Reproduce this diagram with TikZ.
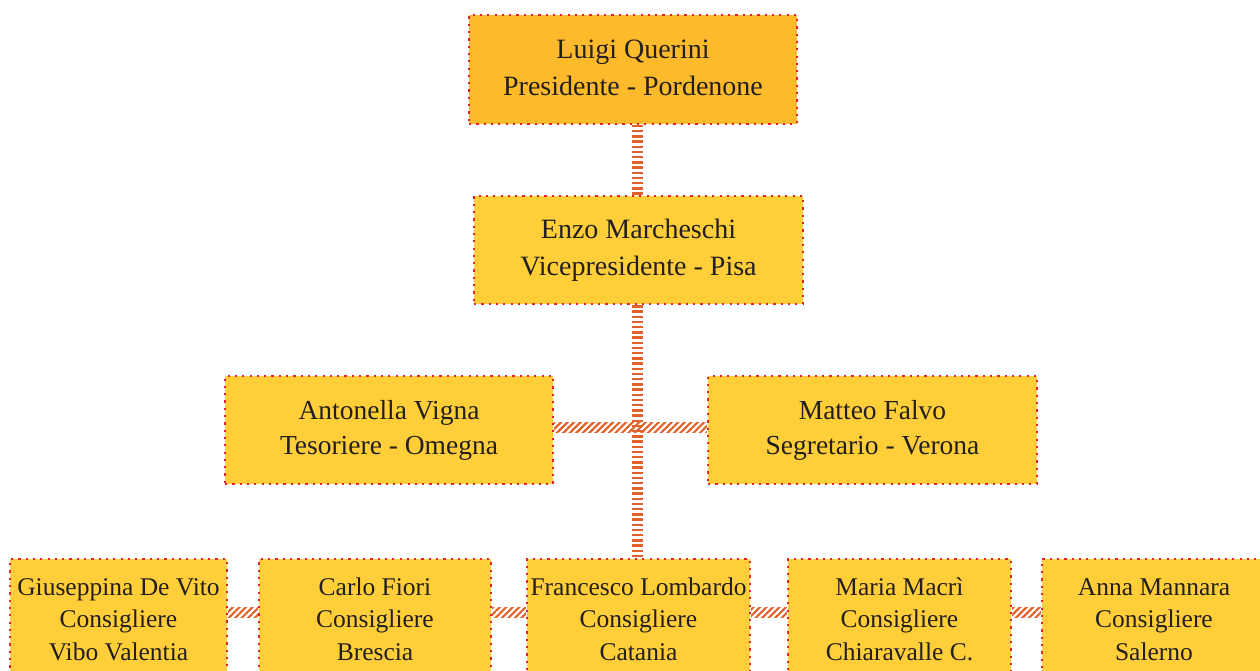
\documentclass[tikz,border=0pt]{standalone}
\usepackage{fontspec}
\setmainfont{Liberation Serif}
\usetikzlibrary{patterns.meta}
\definecolor{boxtop}{HTML}{FDBB2C}
\definecolor{boxfill}{HTML}{FFCE38}
\definecolor{dotred}{HTML}{E3202C}
\definecolor{conn}{HTML}{E0622A}
\definecolor{txt}{HTML}{231F20}
\newcommand\boxtext[2]{\raisebox{#1}{\begin{tabular}{@{}c@{}}#2\end{tabular}}}
\begin{document}
\begin{tikzpicture}[x=1pt,y=-1pt,
  person/.style={rectangle,inner sep=0pt,fill=boxfill,draw=dotred,line width=2.2pt,
     dash pattern=on 2.2pt off 5.1pt,text=txt},
  big/.style={person,font=\fontsize{28}{37}\selectfont},
  mid/.style={person,font=\fontsize{27.5}{35}\selectfont},
  small/.style={person,font=\fontsize{25.5}{32.5}\selectfont},
  vconn/.style={draw=conn,line width=11pt,dash pattern=on 2.5pt off 2.7pt},
  hconn/.style={pattern={Lines[angle=45,distance=4.6pt,line width=2.2pt]},pattern color=conn}
]
\useasboundingbox (0,0) rectangle (1260,671);
\node[big,fill=boxtop,minimum width=328pt,minimum height=109pt] (luigi) at (633,69.5) {\boxtext{3.5pt}{Luigi Querini\\Presidente - Pordenone}};
\node[big,minimum width=329pt,minimum height=108pt] (enzo) at (638.5,250) {\boxtext{2pt}{Enzo Marcheschi\\Vicepresidente - Pisa}};
\node[mid,minimum width=328pt,minimum height=108pt] (anton) at (389,430) {\boxtext{2pt}{Antonella Vigna\\Tesoriere - Omegna}};
\node[mid,minimum width=329pt,minimum height=108pt] (matteo) at (872.5,430) {\boxtext{2pt}{Matteo Falvo\\Segretario - Verona}};
\node[small,minimum width=217pt,minimum height=124pt] (giusep) at (118.5,621) {\boxtext{0pt}{Giuseppina De Vito\\Consigliere\\Vibo Valentia}};
\node[small,minimum width=232pt,minimum height=124pt] (carlo) at (375,621) {\boxtext{0pt}{Carlo Fiori\\Consigliere\\Brescia}};
\node[small,minimum width=223pt,minimum height=124pt] (franc) at (638.5,621) {\boxtext{0pt}{Francesco Lombardo\\Consigliere\\Catania}};
\node[small,minimum width=223pt,minimum height=124pt] (maria) at (899.5,621) {\boxtext{0pt}{Maria Macrì\\Consigliere\\Chiaravalle C.}};
\node[small,minimum width=224pt,minimum height=124pt] (anna) at (1154,621) {\boxtext{0pt}{Anna Mannara\\Consigliere\\Salerno}};
% vertical connectors
\draw[vconn] ([xshift=-1pt]enzo.north) -- ([xshift=-1pt]enzo.north |- luigi.south);
\draw[vconn] ([xshift=-1pt]enzo.south) -- ([xshift=-1pt]franc.north);
% horizontal hatched connectors
\path[hconn] ([yshift=8pt]anton.east) rectangle ([yshift=-2pt]matteo.west);
\path[hconn] ([yshift=13.5pt]giusep.east) rectangle ([yshift=3.5pt]carlo.west);
\path[hconn] ([yshift=13.5pt]carlo.east) rectangle ([yshift=3.5pt]franc.west);
\path[hconn] ([yshift=13.5pt]franc.east) rectangle ([yshift=3.5pt]maria.west);
\path[hconn] ([yshift=13.5pt]maria.east) rectangle ([yshift=3.5pt]anna.west);
\end{tikzpicture}
\end{document}
